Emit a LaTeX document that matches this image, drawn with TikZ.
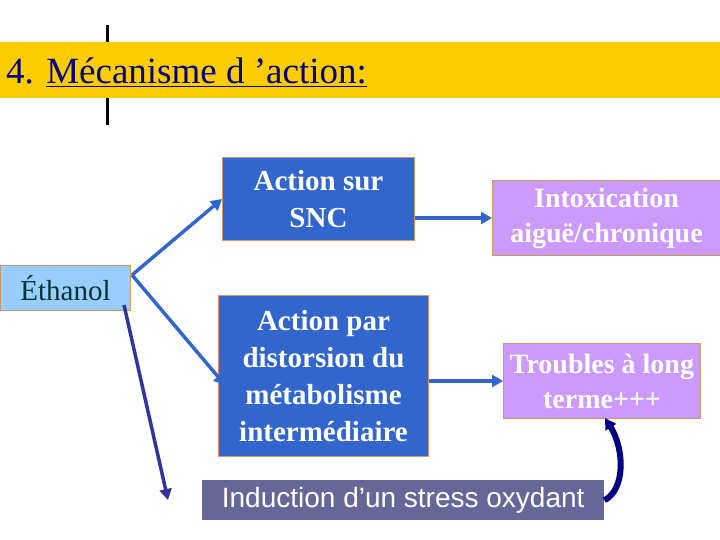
\documentclass[tikz,border=0pt]{standalone}
\usepackage{fontspec}
\setmainfont{Liberation Serif}
\newfontfamily\sansfont{Liberation Sans}
\usetikzlibrary{arrows.meta}
\definecolor{banner}{RGB}{255, 204, 0}
\definecolor{titlenavy}{RGB}{0, 0, 128}
\definecolor{ethblue}{RGB}{153, 204, 255}
\definecolor{actblue}{RGB}{51, 102, 204}
\definecolor{mauve}{RGB}{204, 153, 255}
\definecolor{slate}{RGB}{102, 102, 153}
\definecolor{frameorange}{RGB}{204, 153, 102}
\definecolor{arrowblue}{RGB}{51, 102, 204}
\definecolor{deepnavy}{RGB}{51, 51, 153}
\definecolor{ethtext}{RGB}{0, 51, 51}

\begin{document}
\begin{tikzpicture}[x=1pt, y=-1pt,
	box/.style={draw=frameorange, line width=1pt, text=white, font=\bfseries\fontsize{29}{37}\selectfont, align=center, inner sep=0pt},
	flow/.style={-{Triangle[length=11pt, width=12pt]}, line width=3.5pt, draw=arrowblue}]
			\useasboundingbox (0, 0) rectangle (720, 540);
			\fill [banner] (0, 42) rectangle (720, 98);
			\draw [line width=3pt] (107, 25) -- (107, 42) (107, 98) -- (107, 125);
			\node [anchor=base west, text=titlenavy, inner sep=0pt, font=\fontsize{37}{42}\selectfont] (title) at (6, 84) {4. \underline{Mécanisme d ’action:}};
			\node [box, fill=ethblue, text=ethtext, font=\fontsize{29}{37}\selectfont, minimum width=130pt, minimum height=45pt, anchor=north west] (eth) at (0, 265) {Éthanol};
			\node [box, fill=actblue, minimum width=192pt, minimum height=83pt, anchor=north west] (snc) at (222, 157) {Action sur\\SNC};
			\node [box, fill=mauve, font=\bfseries\fontsize{28}{35}\selectfont, minimum width=228pt, minimum height=75pt, anchor=north west] (intox) at (492, 180) {Intoxication\\aiguë/chronique};
			\node [box, fill=actblue, minimum width=210pt, minimum height=161pt, anchor=north west] (meta) at (218, 295) {Action par\\distorsion du\\métabolisme\\intermédiaire};
			\node [box, fill=mauve, font=\bfseries\fontsize{28}{35}\selectfont, minimum width=197pt, minimum height=75pt, anchor=north west] (trouble) at (503, 343) {Troubles à long\\terme+++};
			\node [fill=slate, text=white, font=\sansfont\fontsize{28}{32}\selectfont, minimum width=402pt, minimum height=40pt, inner sep=0pt, anchor=north west] (stress) at (202, 480) {Induction d’un stress oxydant};
			\coordinate (fork) at (132, 275);
			\coordinate (stressend) at (168, 500);
			\draw [flow] (fork) -- (snc.west);
			\draw [flow] (fork) -- (225, 385);
			\draw [flow, draw=deepnavy] (124, 305) -- (stressend);
			\draw [flow] (snc.east |- intox.west) -- (intox.west);
			\draw [flow] (meta.east |- trouble.west) -- (trouble.west);
			\draw [flow, draw=titlenavy, line width=6pt] (stress.east) .. controls (625, 490) and (625, 450) .. (605, 418);
		\end{tikzpicture}
\end{document}
